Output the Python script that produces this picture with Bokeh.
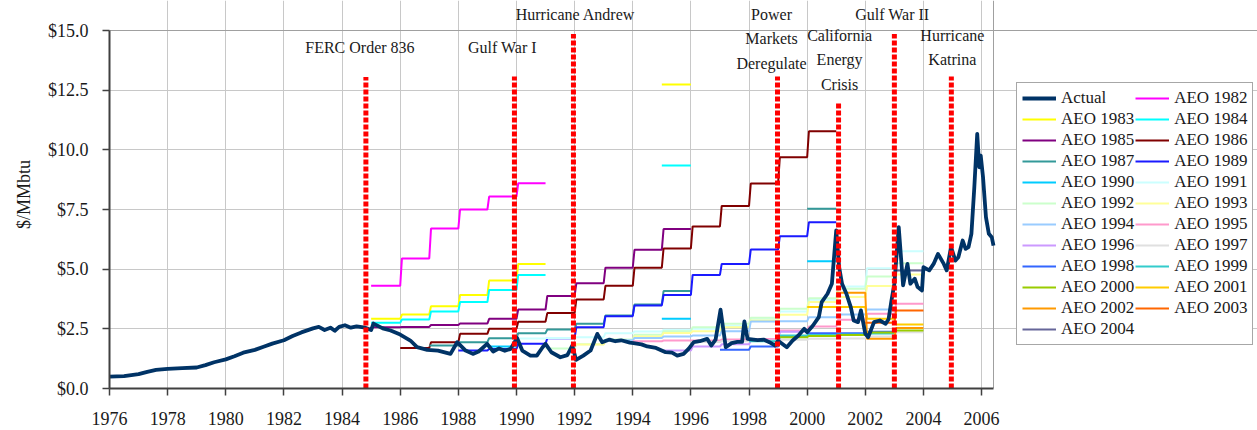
import math
from bokeh.plotting import figure
from bokeh.models import Legend, LegendItem, Label, NumeralTickFormatter, FixedTicker, Range1d, Grid
from bokeh.embed import file_html
from bokeh.resources import INLINE

FONT = "Liberation Serif"

# ---------------- data ----------------
actual_year = [1976.0, 1976.5, 1977.0, 1977.3, 1977.6, 1978.0, 1978.5, 1979.0, 1979.3, 1979.6,
               1980.0, 1980.3, 1980.6, 1981.0, 1981.3, 1981.6, 1982.0, 1982.3, 1982.6, 1983.0,
               1983.2, 1983.4, 1983.6, 1983.75, 1983.9, 1984.1, 1984.3, 1984.5, 1984.8, 1985.0,
               1985.08, 1985.4, 1985.67, 1986.0, 1986.35, 1986.58, 1986.93, 1987.3, 1987.73, 1987.96,
               1988.25, 1988.5, 1988.7, 1988.99, 1989.2, 1989.4, 1989.6, 1989.8, 1990.02, 1990.2,
               1990.48, 1990.7, 1990.9, 1991.0, 1991.2, 1991.51, 1991.75, 1991.92, 1992.05, 1992.3,
               1992.55, 1992.78, 1992.95, 1993.2, 1993.4, 1993.6, 1993.9, 1994.03, 1994.3, 1994.5,
               1994.8, 1995.13, 1995.35, 1995.53, 1995.75, 1995.92, 1996.1, 1996.3, 1996.56, 1996.7,
               1996.85, 1997.02, 1997.2, 1997.4, 1997.6, 1997.76, 1997.84, 1997.95, 1998.3, 1998.5,
               1998.7, 1998.9, 1999.0, 1999.3, 1999.5, 1999.7, 1999.9, 2000.0, 2000.2, 2000.4,
               2000.5, 2000.7, 2000.85, 2001.0, 2001.1, 2001.2, 2001.35, 2001.5, 2001.6, 2001.75,
               2001.85, 2002.0, 2002.1, 2002.3, 2002.5, 2002.7, 2002.8, 2002.9, 2003.0, 2003.15,
               2003.3, 2003.45, 2003.55, 2003.7, 2003.8, 2003.95, 2004.0, 2004.2, 2004.35, 2004.5,
               2004.7, 2004.8, 2004.95, 2005.1, 2005.2, 2005.35, 2005.45, 2005.55, 2005.65, 2005.75,
               2005.85, 2005.92, 2005.97, 2006.05, 2006.15, 2006.25, 2006.35, 2006.41]
actual_price = [0.50, 0.52, 0.60, 0.70, 0.78, 0.82, 0.85, 0.88, 0.98, 1.10,
                1.22, 1.35, 1.50, 1.62, 1.75, 1.88, 2.02, 2.20, 2.35, 2.52,
                2.58, 2.45, 2.55, 2.42, 2.58, 2.65, 2.55, 2.60, 2.55, 2.45,
                2.72, 2.52, 2.43, 2.26, 2.01, 1.73, 1.62, 1.59, 1.45, 1.94,
                1.59, 1.45, 1.55, 1.87, 1.55, 1.68, 1.58, 1.66, 2.12, 1.59,
                1.38, 1.38, 1.73, 1.87, 1.52, 1.31, 1.40, 1.80, 1.20, 1.38,
                1.59, 2.29, 1.94, 2.05, 1.98, 2.02, 1.92, 1.90, 1.85, 1.76,
                1.70, 1.52, 1.50, 1.38, 1.45, 1.66, 1.94, 1.98, 2.08, 1.80,
                2.05, 3.30, 1.73, 1.90, 1.95, 1.95, 2.81, 2.08, 2.03, 2.05,
                1.94, 1.80, 2.00, 1.73, 2.01, 2.22, 2.50, 2.36, 2.64, 2.99,
                3.62, 3.97, 4.39, 6.62, 5.08, 4.39, 3.97, 3.41, 2.85, 2.78,
                3.27, 2.29, 2.15, 2.78, 2.85, 2.71, 2.90, 3.69, 4.39, 6.76,
                4.32, 5.22, 4.39, 4.60, 4.25, 4.11, 5.08, 4.95, 5.22, 5.64,
                5.22, 4.95, 5.92, 5.36, 5.50, 6.20, 5.85, 5.92, 6.48, 8.43,
                10.67, 9.27, 9.76, 8.85, 7.18, 6.48, 6.34, 5.99]

# AEO forecasts: {forecast year: price}
aeo_1982 = {1985: 4.30, 1986: 5.45, 1987: 6.70, 1988: 7.50, 1989: 8.04, 1990: 8.60}
aeo_1983 = {1985: 2.92, 1986: 3.10, 1987: 3.45, 1988: 3.92, 1989: 4.52, 1990: 5.22, 1995: 12.74}
aeo_1984 = {1985: 2.75, 1986: 2.89, 1987: 3.23, 1988: 3.62, 1989: 4.13, 1990: 4.76, 1995: 9.34}
aeo_1985 = {1985: 2.57, 1986: 2.58, 1987: 2.66, 1988: 2.72, 1989: 2.92, 1990: 3.31, 1991: 3.88,
            1992: 4.41, 1993: 5.06, 1994: 5.81, 1995: 6.68}
aeo_1986 = {1986: 1.70, 1987: 1.94, 1988: 2.29, 1989: 2.50, 1990: 2.80, 1991: 3.16, 1992: 3.73,
            1993: 4.30, 1994: 5.06, 1995: 5.87, 1996: 6.79, 1997: 7.65, 1998: 8.59, 1999: 9.69,
            2000: 10.78}
aeo_1987 = {1987: 1.80, 1988: 1.94, 1989: 2.11, 1990: 2.32, 1991: 2.47, 1992: 2.71, 1993: 3.06,
            1994: 3.52, 1995: 4.08, 2000: 7.53}
aeo_1989 = {1988: 1.59, 1989: 1.66, 1990: 1.87, 1991: 2.11, 1992: 2.57, 1993: 3.03, 1994: 3.48,
            1995: 3.92, 1996: 4.76, 1997: 5.22, 1998: 5.82, 1999: 6.38, 2000: 6.97}
aeo_1990 = {1989: 1.76, 1995: 2.92, 2000: 5.33}
aeo_1991 = {1990: 2.10, 1991: 2.12, 1992: 2.15, 1993: 2.32, 1994: 2.39, 1995: 2.46, 1996: 2.50,
            1997: 2.62, 1998: 2.90, 1999: 3.23, 2000: 3.72, 2001: 4.27, 2002: 5.04, 2003: 5.75}
aeo_1992 = {1991: 1.68, 1992: 1.85, 1993: 2.05, 1994: 2.25, 1995: 2.40, 1996: 2.57, 1997: 2.71,
            1998: 2.96, 1999: 3.34, 2000: 3.78, 2001: 4.18, 2002: 4.69, 2003: 5.25}
aeo_1993 = {1992: 1.84, 1993: 2.00, 1994: 2.18, 1995: 2.33, 1996: 2.40, 1997: 2.57, 1998: 2.85,
            1999: 3.09, 2000: 3.62, 2001: 3.83, 2002: 4.29, 2003: 4.78}
aeo_1994 = {1993: 2.02, 1994: 2.12, 1995: 2.18, 1996: 2.22, 1997: 2.40, 1998: 2.81, 1999: 2.82,
            2000: 2.99, 2001: 3.10, 2002: 3.31}
aeo_1995 = {1994: 1.98, 1995: 2.01, 1996: 2.01, 1997: 2.05, 1998: 2.07, 1999: 2.43, 2000: 2.60,
            2001: 2.88, 2002: 3.13, 2003: 3.55}
aeo_1996 = {1995: 1.59, 1996: 1.76, 1997: 1.85, 1998: 2.00, 1999: 2.38}
aeo_1997 = {1996: 1.95, 1997: 1.98, 1998: 2.00, 1999: 2.04, 2000: 2.08, 2001: 2.10, 2002: 2.18,
            2003: 2.36}
aeo_1998 = {1997: 1.62, 1998: 1.76, 1999: 2.20, 2000: 2.32, 2001: 2.32, 2002: 2.38}
aeo_1999 = {1998: 1.98, 1999: 2.22, 2000: 2.24, 2001: 2.26, 2002: 2.30}
aeo_2000 = {1999: 2.15, 2000: 2.20, 2001: 2.24, 2002: 2.35, 2003: 2.43}
aeo_2001 = {2000: 3.41, 2001: 3.41, 2002: 2.92, 2003: 2.68}
aeo_2002 = {2001: 4.01, 2002: 2.08, 2003: 2.53}
aeo_2003 = {2002: 2.75, 2003: 3.27}
aeo_2004 = {2003: 4.94}

aeo_names = ["AEO 1982", "AEO 1983", "AEO 1984", "AEO 1985", "AEO 1986", "AEO 1987", "AEO 1989",
             "AEO 1990", "AEO 1991", "AEO 1992", "AEO 1993", "AEO 1994", "AEO 1995", "AEO 1996",
             "AEO 1997", "AEO 1998", "AEO 1999", "AEO 2000", "AEO 2001", "AEO 2002", "AEO 2003",
             "AEO 2004"]
aeo_data = [aeo_1982, aeo_1983, aeo_1984, aeo_1985, aeo_1986, aeo_1987, aeo_1989, aeo_1990,
            aeo_1991, aeo_1992, aeo_1993, aeo_1994, aeo_1995, aeo_1996, aeo_1997, aeo_1998,
            aeo_1999, aeo_2000, aeo_2001, aeo_2002, aeo_2003, aeo_2004]

# events
event_years = [1984.82, 1989.93, 1991.96, 1998.98, 2001.08, 2003.0, 2004.96]
event_tops = [13.05, 13.07, 14.85, 13.07, 12.03, 14.85, 13.07]
event_names = ["FERC Order 836", "Gulf War I", "Hurricane Andrew", "Power\nMarkets\nDeregulate",
               "California\nEnergy\nCrisis", "Gulf War II", "Hurricane\nKatrina"]

x_ticks = list(range(1976, 2007, 2))
y_ticks = [0, 2.5, 5, 7.5, 10, 12.5, 15]
X_START, X_END = 1976, 2006.41
Y_TOP = 15

# ---------------- styles / layout ----------------
aeo_colors = ["#FF00FF", "#FFFF00", "#00FFFF", "#800080", "#800000", "#339999", "#1A1AFF",
              "#00CCFF", "#CCFFFF", "#CCFFCC", "#FFFF99", "#99CCFF", "#FF99CC", "#CC99FF",
              "#E0E0E0", "#3366FF", "#33CCCC", "#99CC00", "#FFCC00", "#FF9900", "#FF6600",
              "#666699"]
label_gap = [29.5, 29.0, 19.5, 13.5, 17.0, 19.5, 17.0]
label_dx = [-6, -12, 2, -6, 1, -2, 1]
LINE_STEP = 24.5
RAMP = 0.06
W, H = 1257, 430
LEFT, BOTTOM = 109, 42
PLOT_W = 884          # width of the drawn plot area (px)
HEADROOM_PX = 30      # room above $15 for the event captions
LEGEND_POS = (907, 43)


def step_path(d):
    xs, ys = [], []
    yrs = sorted(d)
    for i, yr in enumerate(yrs):
        v = d[yr]
        contiguous = i > 0 and yr == yrs[i - 1] + 1
        if i > 0 and not contiguous:
            xs.append(float("nan"))
            ys.append(float("nan"))
        xs += [yr + RAMP if contiguous else yr, yr + 1]
        ys += [v, v]
    return xs, ys


frame_h = H - BOTTOM
frame_w = W - LEFT
y_end = Y_TOP * frame_h / (frame_h - HEADROOM_PX)
x_view_end = X_START + (X_END - X_START) * frame_w / PLOT_W

p = figure(width=W, height=H, x_range=Range1d(X_START, x_view_end), y_range=Range1d(0, y_end),
           output_backend="svg", toolbar_location=None,
           min_border_left=LEFT, min_border_right=0, min_border_top=0, min_border_bottom=BOTTOM)
p.background_fill_color = "white"
p.border_fill_color = "white"
p.outline_line_color = None

renderers = {}
for name, d, c in zip(aeo_names, aeo_data, aeo_colors):
    xs, ys = step_path(d)
    r = p.line(xs, ys, line_color=c, line_width=2)
    renderers[name] = r

r_act = p.line(actual_year, actual_price, line_color="#003366", line_width=3.8, line_join="round")
renderers["Actual"] = r_act

p.segment(x0=event_years, y0=[0] * len(event_years), x1=event_years, y1=event_tops,
          line_color="#FF0000", line_width=5, line_dash="5 2")

for yr, top, name, gap, dx in zip(event_years, event_tops, event_names, label_gap, label_dx):
    lines = name.split("\n")
    n = len(lines)
    for j, t in enumerate(lines):
        p.add_layout(Label(x=yr, y=top, x_offset=dx, y_offset=gap + (n - 1 - j) * LINE_STEP,
                           text=t, text_align="center", text_baseline="middle",
                           text_font=FONT, text_font_size="16px", text_color="#1a1a1a"))

# axes
p.xaxis.ticker = FixedTicker(ticks=x_ticks)
p.yaxis.ticker = FixedTicker(ticks=y_ticks)
p.xaxis.bounds = (X_START, X_END)
p.yaxis.bounds = (0, Y_TOP)
p.yaxis.formatter = NumeralTickFormatter(format="$0.0")
p.yaxis.axis_label = "$/MMbtu"
for ax in (p.xaxis[0], p.yaxis[0]):
    ax.axis_line_color = "#404040"
    ax.axis_line_width = 2
    ax.major_tick_line_color = "#404040"
    ax.major_tick_line_width = 1.5
    ax.major_tick_in = 0
    ax.major_tick_out = 7
    ax.minor_tick_line_color = None
    ax.major_label_text_font = FONT
    ax.major_label_text_font_size = "18px"
    ax.major_label_text_color = "#1a1a1a"
p.xaxis.major_label_standoff = 16
p.yaxis.major_label_standoff = 14
p.yaxis.axis_label_text_font = FONT
p.yaxis.axis_label_text_font_size = "18px"
p.yaxis.axis_label_text_font_style = "normal"
p.yaxis.axis_label_text_color = "#1a1a1a"
p.yaxis.axis_label_standoff = 11

p.xgrid.grid_line_color = "#C8C8C8"
p.ygrid.grid_line_color = "#C8C8C8"
p.xgrid.bounds = (0, Y_TOP)
p.ygrid.bounds = (X_START, X_END)
# plot-area border (top and right)
p.add_layout(Grid(dimension=1, ticker=FixedTicker(ticks=[Y_TOP]), bounds=(X_START, X_END),
                  grid_line_color="#A0A0A0"))
p.add_layout(Grid(dimension=0, ticker=FixedTicker(ticks=[X_END]), bounds=(0, Y_TOP),
                  grid_line_color="#A0A0A0"))

# legend (Bokeh fills columns first: reorder so rows read Actual/1982, 1983/1984, ...)
order = ["Actual"] + aeo_names
col_major = order[0::2] + order[1::2]
items = [LegendItem(label=n, renderers=[renderers[n]]) for n in col_major]
legend = Legend(items=items, ncols=2, location=LEGEND_POS, orientation="vertical",
                label_text_font=FONT, label_text_font_size="17px", label_text_color="#1a1a1a",
                glyph_width=34, glyph_height=20, label_height=20, label_width=73,
                label_standoff=5, spacing=1, padding=5, margin=0,
                border_line_color="#505050", border_line_width=1.5,
                background_fill_color="white", background_fill_alpha=1.0)
p.add_layout(legend)

open("out.html", "w").write(file_html(p, INLINE))
